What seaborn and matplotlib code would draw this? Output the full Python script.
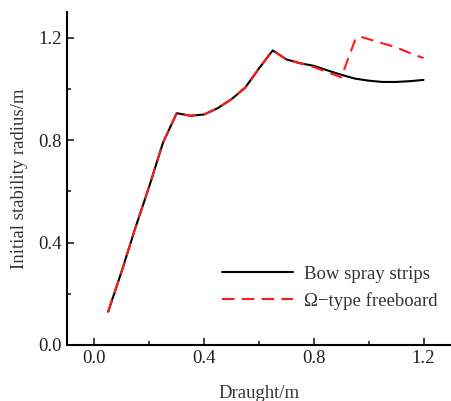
import matplotlib
matplotlib.use("Agg")
import matplotlib.pyplot as plt
import seaborn as sns
import pandas as pd
from matplotlib.ticker import MultipleLocator

draught = [0.05, 0.10, 0.15, 0.20, 0.25, 0.30, 0.35, 0.40, 0.45, 0.50, 0.55, 0.60,
           0.65, 0.70, 0.75, 0.80, 0.85, 0.90, 0.95, 1.00, 1.05, 1.10, 1.15, 1.20]
bow_spray = [0.13, 0.29, 0.46, 0.62, 0.79, 0.905, 0.895, 0.90, 0.925, 0.96, 1.005, 1.08,
             1.15, 1.115, 1.10, 1.09, 1.072, 1.055, 1.04, 1.032, 1.027, 1.027, 1.03, 1.035]
omega_x = [0.05, 0.10, 0.15, 0.20, 0.25, 0.30, 0.35, 0.40, 0.45, 0.50, 0.55, 0.60,
           0.65, 0.70, 0.75, 0.80, 0.85, 0.90, 0.95, 0.965, 1.00, 1.05, 1.10, 1.15, 1.20]
omega = [0.13, 0.29, 0.46, 0.62, 0.79, 0.905, 0.895, 0.90, 0.925, 0.96, 1.005, 1.08,
         1.15, 1.115, 1.10, 1.085, 1.065, 1.045, 1.19, 1.205, 1.194, 1.178, 1.162, 1.14, 1.12]
labels = ["Bow spray strips", "\u03a9\u2212type freeboard"]

sns.set_style("ticks")
plt.rcParams['font.family'] = ['Liberation Serif', 'DejaVu Serif']

fig = plt.figure(figsize=(4.51, 4.01), dpi=100)
ax = fig.add_axes([0.1486, 0.1397, 0.8514, 0.8303])

df1 = pd.DataFrame({"x": draught, "y": bow_spray})
df2 = pd.DataFrame({"x": omega_x, "y": omega})
sns.lineplot(data=df1, x="x", y="y", ax=ax, color="black", lw=1.5, label=labels[0])
sns.lineplot(data=df2, x="x", y="y", ax=ax, color="#ff1a1a", lw=1.5,
             dashes=False, label=labels[1])
ax.lines[1].set_dashes([6, 3.5])

ax.set_xlim(-0.1, 1.3)
ax.set_ylim(0, 1.3)
ax.xaxis.set_major_locator(MultipleLocator(0.4))
ax.xaxis.set_minor_locator(MultipleLocator(0.2))
ax.yaxis.set_major_locator(MultipleLocator(0.4))
ax.yaxis.set_minor_locator(MultipleLocator(0.2))
ax.xaxis.set_major_formatter(matplotlib.ticker.FormatStrFormatter('%.1f'))
ax.yaxis.set_major_formatter(matplotlib.ticker.FormatStrFormatter('%.1f'))
ax.tick_params(which='major', direction='in', length=5, width=1.2, labelsize=13.5, colors='#222222')
ax.tick_params(which='minor', direction='in', length=3, width=1.2)
for s in ['top', 'right']:
    ax.spines[s].set_visible(False)
for s in ['left', 'bottom']:
    ax.spines[s].set_linewidth(1.5)
    ax.spines[s].set_color('black')

ax.set_xlabel("Draught/m", fontsize=13.5, color='#333333', labelpad=13)
ax.set_ylabel("Initial stability radius/m", fontsize=13.5, color='#333333', labelpad=8)

leg = ax.legend(loc='lower right', bbox_to_anchor=(1.01, 0.055), frameon=False,
                fontsize=13.5, handlelength=3.8, labelspacing=0.5, handletextpad=0.6)
for t in leg.get_texts():
    t.set_color('#333333')

fig.savefig("out.png", dpi=100)
